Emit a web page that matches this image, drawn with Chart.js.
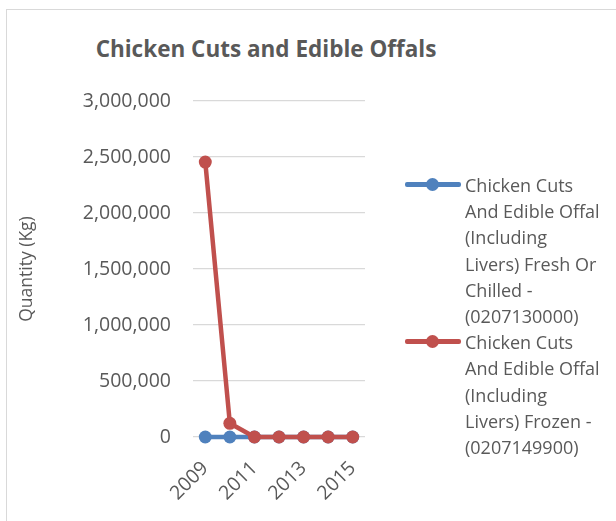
<!DOCTYPE html>
<html>
<head>
<meta charset="utf-8">
<script src="https://cdn.jsdelivr.net/npm/chart.js@4/dist/chart.umd.min.js"></script>
<style>
  html, body { margin: 0; padding: 0; background: #fff; overflow: hidden; width: 616px; height: 521px; }
  #frame { position: absolute; left: 6px; top: 9px; width: 700px; height: 600px; border: 1px solid #D9D9D9; box-sizing: border-box; }
  #wrap { position: absolute; left: 0; top: 0; width: 532px; height: 521px; }
  #title { position: absolute; left: 66px; width: 400px; top: 33px; text-align: center; font: bold 22.5px "Open Sans"; color: #595959; }
  #legend { position: absolute; left: 405px; top: 172px; font: 18px "Open Sans"; color: #595959; line-height: 26.2px; }
  .item { position: relative; padding-left: 60px; white-space: pre-line; }
  .mark { position: absolute; left: 0; top: 10px; width: 56px; height: 5px; border-radius: 2px; }
  .mark i { position: absolute; left: 21px; top: -4px; width: 13px; height: 13px; border-radius: 50%; background: inherit; }
</style>
</head>
<body>
<div id="frame"></div>
<div id="title">Chicken Cuts and Edible Offals</div>
<div id="wrap"><canvas id="myChart"></canvas></div>
<div id="legend"></div>
<script>
var years = ['2009', '2010', '2011', '2012', '2013', '2014', '2015'];
var freshName = 'Chicken Cuts\nAnd Edible Offal\n(Including\nLivers) Fresh Or\nChilled -\n(0207130000)';
var frozenName = 'Chicken Cuts\nAnd Edible Offal\n(Including\nLivers) Frozen -\n(0207149900)';
var freshValues = [0, 0, 0, 0, 0, 0, 0];
var frozenValues = [2455000, 122000, 0, 0, 0, 0, 0];
var yTicks = [0, 500000, 1000000, 1500000, 2000000, 2500000, 3000000];

var blue = '#4F81BD';
var red = '#C0504D';
var textColor = '#595959';

var canvas = document.getElementById('myChart');
var ctx = canvas.getContext('2d');

var datasets = [
    { label: freshName, data: freshValues, borderColor: blue, backgroundColor: blue, order: 1 },
    { label: frozenName, data: frozenValues, borderColor: red, backgroundColor: red, order: 0 }
];
datasets.forEach(function (ds) {
    ds.borderWidth = 4.5;
    ds.pointRadius = 6.5;
    ds.pointBorderWidth = 0;
    ds.pointHoverRadius = 6.5;
    ds.tension = 0;
    ds.clip = false;
});

new Chart(ctx, {
    type: 'line',
    data: { labels: years, datasets: datasets },
    options: {
        responsive: true,
        maintainAspectRatio: false,
        animation: false,
        layout: { padding: { left: 6, right: 167, top: 101, bottom: 0 } },
        scales: {
            x: {
                offset: true,
                grid: { display: false },
                border: { display: false },
                afterFit: function (scale) { scale.height = 84; },
                ticks: {
                    autoSkip: false,
                    minRotation: 45,
                    maxRotation: 45,
                    padding: 12,
                    color: textColor,
                    font: { family: 'Open Sans', size: 19.5 },
                    callback: function (value, index) {
                        return index % 2 === 0 ? years[index] : '';
                    }
                }
            },
            y: {
                min: 0,
                max: 3000000,
                afterFit: function (scale) { scale.width = 187; },
                afterBuildTicks: function (scale) {
                    scale.ticks = yTicks.map(function (v) { return { value: v }; });
                },
                grid: { color: '#D9D9D9', lineWidth: 1.3, drawTicks: false },
                border: { display: false },
                title: {
                    display: true,
                    text: 'Quantity (Kg)',
                    color: textColor,
                    font: { family: 'Open Sans', size: 17.5 },
                    padding: { top: 11, bottom: 0 }
                },
                ticks: {
                    padding: 22,
                    color: textColor,
                    font: { family: 'Open Sans', size: 19.5 },
                    callback: function (value) {
                        return value.toLocaleString('en-US');
                    }
                }
            }
        },
        plugins: {
            legend: { display: false },
            tooltip: { enabled: false }
        }
    }
});

var legend = document.getElementById('legend');
[{ name: freshName, color: blue }, { name: frozenName, color: red }].forEach(function (s) {
    var item = document.createElement('div');
    item.className = 'item';
    item.innerHTML = '<span class="mark" style="background:' + s.color + '"><i></i></span>';
    item.appendChild(document.createTextNode(s.name));
    legend.appendChild(item);
});
</script>
</body>
</html>
